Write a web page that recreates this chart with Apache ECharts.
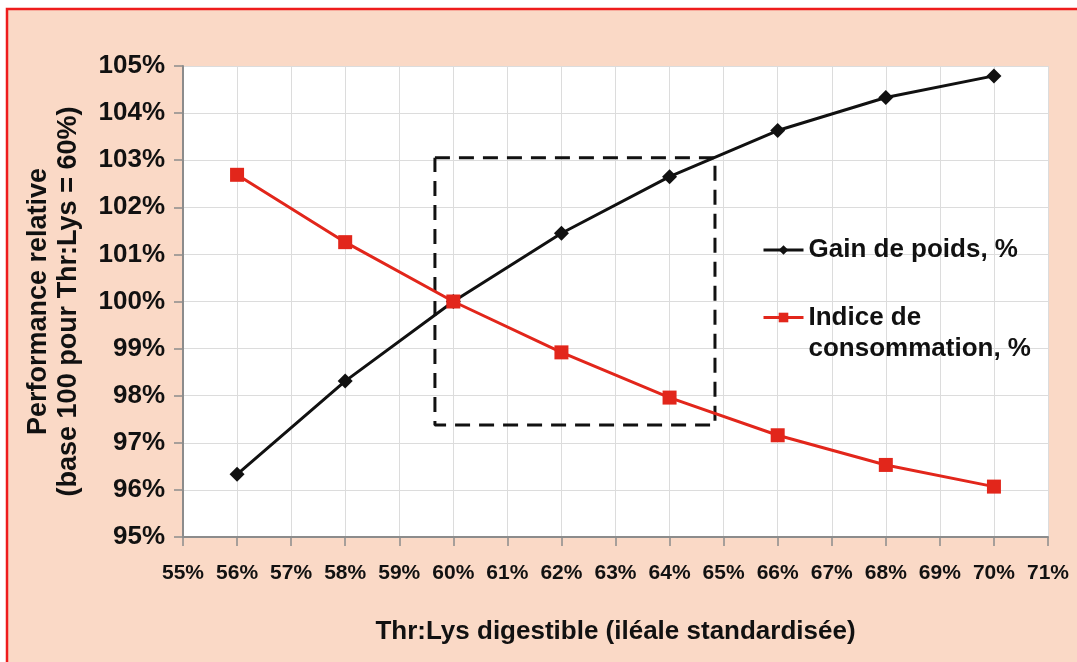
<!DOCTYPE html>
<html>
<head>
<meta charset="utf-8">
<script src="https://cdn.jsdelivr.net/npm/echarts@6/dist/echarts.min.js"></script>
<style>
html,body{margin:0;padding:0;background:#fff;}
#chart{width:1077px;height:662px;}
</style>
</head>
<body>
<div id="chart"></div>
<script>
// Data
const thrLys = [56, 58, 60, 62, 64, 66, 68, 70];
const gainPoids = [96.33, 98.31, 100.0, 101.45, 102.65, 103.63, 104.33, 104.79];
const indiceConso = [102.69, 101.26, 100.0, 98.92, 97.96, 97.16, 96.53, 96.07];
// Dashed box corners (x %, y %)
const boxX = [59.66, 64.84];
const boxY = [97.38, 103.05];
const seriesNames = ['Gain de poids, %', 'Indice de consommation, %'];
const xAxisName = 'Thr:Lys digestible (iléale standardisée)';
const yAxisName = 'Performance relative\n(base 100 pour Thr:Lys = 60%)';

const FONT = '"Liberation Sans", Arial, sans-serif';
const RED = '#E2261B';

const pts = (xs, ys) => xs.map((x, i) => [x, ys[i]]);
const boxData = [
  [boxX[0], boxY[1]], [boxX[1], boxY[1]], [boxX[1], boxY[0]],
  [boxX[0], boxY[0]], [boxX[0], boxY[1]]
];

const chart = echarts.init(document.getElementById('chart'));
chart.setOption({
  backgroundColor: '#ffffff',
  animation: false,
  graphic: [{
    type: 'rect', z: -10, silent: true,
    shape: { x: 7, y: 9, width: 1100, height: 700 },
    style: { fill: '#FAD9C6', stroke: '#EE1C1C', lineWidth: 2.5 }
  }],
  grid: {
    left: 183, top: 66, right: 29, bottom: 125,
    show: true, backgroundColor: '#ffffff', borderWidth: 0
  },
  legend: [{
    data: [seriesNames[0]],
    orient: 'vertical', left: 762, top: 235, padding: 0,
    itemWidth: 40, itemHeight: 12,
    lineStyle: { width: 3 },
    textStyle: { fontFamily: FONT, fontWeight: 'bold', fontSize: 26, color: '#111', lineHeight: 30 }
  }, {
    data: [seriesNames[1]],
    orient: 'vertical', left: 762, top: 271, padding: 0,
    itemWidth: 40, itemHeight: 12,
    lineStyle: { width: 3 },
    formatter: () => ' \nIndice de\nconsommation, %',
    textStyle: { fontFamily: FONT, fontWeight: 'bold', fontSize: 26, color: '#111', lineHeight: 31 }
  }],
  xAxis: {
    type: 'value', min: 55, max: 71, interval: 1,
    name: xAxisName, nameLocation: 'middle', nameGap: 82,
    nameTextStyle: { fontFamily: FONT, fontWeight: 'bold', fontSize: 26, color: '#111' },
    axisLine: { lineStyle: { color: '#8c8c8c', width: 2 } },
    axisTick: { show: true, length: 9, lineStyle: { color: '#8c8c8c', width: 1.5 } },
    axisLabel: { formatter: '{value}%', margin: 26, fontFamily: FONT, fontWeight: 'bold', fontSize: 21, color: '#111' },
    splitLine: { show: true, lineStyle: { color: '#dcdcdc', width: 1 } }
  },
  yAxis: {
    type: 'value', min: 95, max: 105, interval: 1,
    name: yAxisName, nameLocation: 'middle', nameGap: 99, nameRotate: 90,
    nameTextStyle: { fontFamily: FONT, fontWeight: 'bold', fontSize: 27, color: '#111', lineHeight: 30 },
    axisLine: { show: true, lineStyle: { color: '#8c8c8c', width: 2 } },
    axisTick: { show: true, length: 9, lineStyle: { color: '#8c8c8c', width: 1.5 } },
    axisLabel: { formatter: '{value}%', margin: 18, fontFamily: FONT, fontWeight: 'bold', fontSize: 26, color: '#111' },
    splitLine: { show: true, lineStyle: { color: '#dcdcdc', width: 1 } }
  },
  series: [{
    name: 'box', type: 'line', data: boxData, silent: true,
    symbol: 'none', z: 1,
    lineStyle: { color: '#111', width: 3, type: [15, 9] }
  }, {
    name: seriesNames[0], type: 'line', data: pts(thrLys, gainPoids), z: 3,
    symbol: 'diamond', symbolSize: 15,
    lineStyle: { color: '#111', width: 3 },
    itemStyle: { color: '#111' }
  }, {
    name: seriesNames[1], type: 'line', data: pts(thrLys, indiceConso), z: 4,
    symbol: 'rect', symbolSize: 14,
    lineStyle: { color: RED, width: 3 },
    itemStyle: { color: RED }
  }]
});
</script>
</body>
</html>
